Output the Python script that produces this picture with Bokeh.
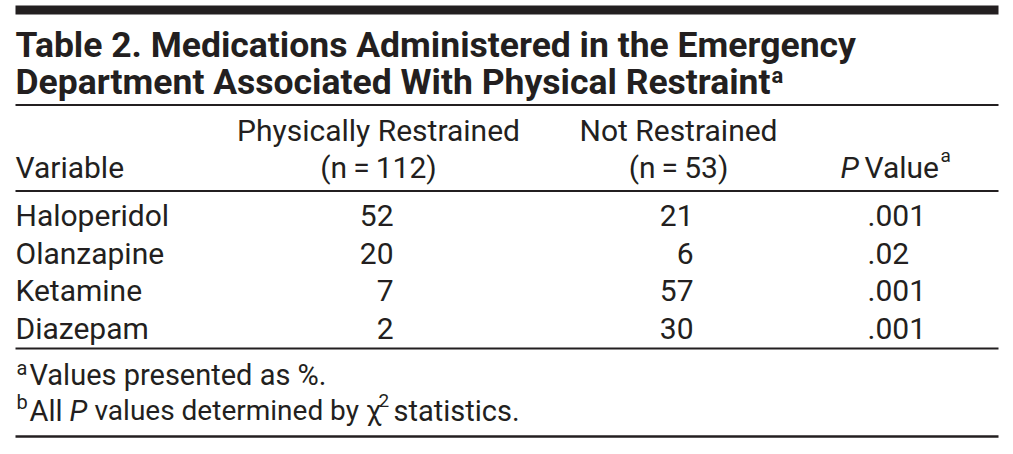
from bokeh.plotting import figure
from bokeh.models import ColumnDataSource, Range1d
from bokeh.core.properties import value
from bokeh.embed import file_html
from bokeh.resources import INLINE

# ---- table content ----
title_lines = ["Table 2. Medications Administered in the Emergency",
               "Department Associated With Physical Restraint"]
col_headers_top = ["Physically Restrained", "Not Restrained"]
col_headers_bottom = ["(n\u2009=\u2009112)", "(n\u2009=\u200953)"]
medications = ["Haloperidol", "Olanzapine", "Ketamine", "Diazepam"]
restrained = [52, 20, 7, 2]
not_restrained = [21, 6, 57, 30]
p_values = [".001", ".02", ".001", ".001"]
footnote_a = "Values presented as %."

FONT = "Roboto"
INK = "#231f20"
BODY = "30px"

W, H = 1013, 454
p = figure(width=W, height=H, output_backend="svg", toolbar_location=None,
           x_range=Range1d(0, W), y_range=Range1d(H, 0),
           min_border=0, outline_line_color=None)
p.axis.visible = False
p.grid.visible = False
p.background_fill_color = "white"
p.border_fill_color = "white"

def txt(x, y, s, size=BODY, align="left", style="normal", font=FONT):
    p.text(x=[x], y=[y], text=[s], text_font=value(font), text_font_size=size,
           text_align=align, text_baseline="alphabetic", text_color=INK,
           text_font_style=style)

# rules
p.quad(left=[15], right=[998], top=[5], bottom=[14], fill_color=INK, line_color=None)
for yy, lw in [(104.5, 2), (190.5, 2), (348, 2), (436, 2.5)]:
    p.segment(x0=[15], x1=[998], y0=[yy], y1=[yy], line_color=INK, line_width=lw)

# title
txt(15, 44, title_lines[0], size="35.5px", style="bold")
txt(15, 81, title_lines[1], size="35.5px", style="bold")
txt(771, 75, "a", size="22px", style="bold")

# header
col_centers = [378, 678]
for c, t, b in zip(col_centers, col_headers_top, col_headers_bottom):
    txt(c, 130, t, align="center")
    txt(c, 167, b, align="center")
txt(15, 167, "Variable")
txt(840, 167, "P", style="italic")
txt(864, 167, "Value")
txt(940, 155, "a", size="19px")

# body rows
row0, dy = 215, 37.5
ys = [row0 + i * dy for i in range(len(medications))]
src = ColumnDataSource(dict(y=ys, med=medications,
                            r=[str(v) for v in restrained],
                            n=[str(v) for v in not_restrained],
                            pv=p_values))
common = dict(text_font=value(FONT), text_font_size=BODY, text_baseline="alphabetic",
              text_color=INK, source=src)
p.text(x=15, y="y", text="med", text_align="left", **common)
p.text(x=393, y="y", text="r", text_align="right", **common)
p.text(x=693, y="y", text="n", text_align="right", **common)
p.text(x=867, y="y", text="pv", text_align="left", **common)

# footnotes
FN = "29px"
txt(16, 367, "a", size="20px")
txt(29, 374, footnote_a, size=FN)
txt(16, 401, "b", size="20px")
txt(29, 410, "All", size=FN)
txt(69, 410, "P", size=FN, style="italic")
txt(94, 410, "values determined by \u03c7", size="28px")
txt(378, 400, "2", size="19px")
txt(393, 410, "statistics.", size=FN)

open("out.html", "w").write(file_html(p, INLINE))
